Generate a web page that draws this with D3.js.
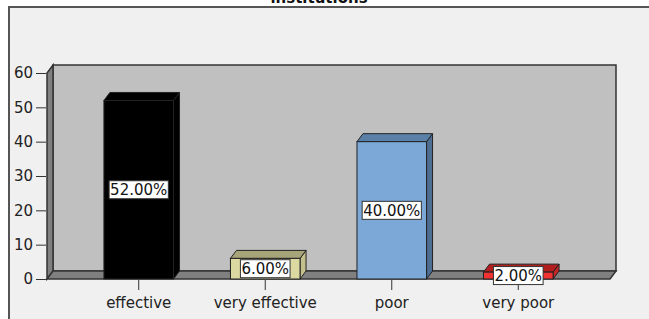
<!DOCTYPE html>
<html>
<head>
<meta charset="utf-8">
<script src="https://cdn.jsdelivr.net/npm/d3@7"></script>
<style>
  body { margin: 0; background: #ffffff; }
  text { font-family: "DejaVu Sans", sans-serif; }
</style>
</head>
<body>
<div id="my_dataviz"></div>
<script>
// values
var title = "institutions";
var categories = ["effective", "very effective", "poor", "very poor"];
var percents = [52, 6, 40, 2];
var valueLabels = ["52.00%", "6.00%", "40.00%", "2.00%"];
var yTicks = [0, 10, 20, 30, 40, 50, 60];

// bar colours: front, top, side
var barColors = [
    ["#000000", "#000000", "#000000"],
    ["#dcd8a2", "#a8a47a", "#c4c08e"],
    ["#7ba8d7", "#5a80a8", "#4d6d92"],
    ["#f23232", "#b21e1e", "#c42626"]
];

var width = 649,
    height = 319;

// floor front edge and 3d depth offset
var plot = { left: 47, right: 610, bottom: 279 },
    dx = 6,
    dy = 8;

var svg = d3.select("#my_dataviz")
    .append("svg")
    .attr("width", width)
    .attr("height", height);

// outer frame
svg.append("rect")
    .attr("x", 9)
    .attr("y", 7)
    .attr("width", 700)
    .attr("height", 400)
    .attr("fill", "#f0f0f0")
    .attr("stroke", "#555")
    .attr("stroke-width", 2);

// title, mostly cut off at the top
svg.append("text")
    .attr("x", 319)
    .attr("y", 3)
    .attr("text-anchor", "middle")
    .attr("font-size", 15)
    .attr("font-weight", "bold")
    .attr("fill", "#111")
    .text(title);

var x = d3.scaleBand()
    .domain(categories)
    .range([plot.left, plot.right])
    .padding(0.45);

var y = d3.scaleLinear()
    .domain([0, 60])
    .range([plot.bottom, 73]);

var wallTop = y(60) - dy;

// back wall
svg.append("rect")
    .attr("x", plot.left + dx)
    .attr("y", wallTop)
    .attr("width", plot.right - plot.left)
    .attr("height", plot.bottom - dy - wallTop)
    .attr("fill", "#c0c0c0")
    .attr("stroke", "#333")
    .attr("stroke-width", 1.5);

// left side wall
svg.append("path")
    .attr("d", "M" + plot.left + "," + plot.bottom +
        "L" + plot.left + "," + (wallTop + dy) +
        "L" + (plot.left + dx) + "," + wallTop +
        "L" + (plot.left + dx) + "," + (plot.bottom - dy) + "Z")
    .attr("fill", "#808080")
    .attr("stroke", "#333")
    .attr("stroke-width", 1.5);

// floor
svg.append("path")
    .attr("d", "M" + plot.left + "," + plot.bottom +
        "L" + (plot.left + dx) + "," + (plot.bottom - dy) +
        "L" + (plot.right + dx) + "," + (plot.bottom - dy) +
        "L" + plot.right + "," + plot.bottom + "Z")
    .attr("fill", "#808080")
    .attr("stroke", "#333")
    .attr("stroke-width", 1.5);

// y axis
var yAxis = svg.append("g")
    .attr("transform", "translate(" + (plot.left - 1) + ",0)")
    .call(d3.axisLeft(y).tickValues(yTicks).tickSize(10).tickSizeOuter(0).tickPadding(3));
yAxis.select(".domain").remove();
yAxis.selectAll("line").attr("stroke", "#333");
yAxis.selectAll("text")
    .attr("font-family", "DejaVu Sans")
    .attr("font-size", 15)
    .attr("fill", "#222");

// x axis
var xAxis = svg.append("g")
    .attr("transform", "translate(0," + (plot.bottom + 1) + ")")
    .call(d3.axisBottom(x).tickSize(10).tickSizeOuter(0).tickPadding(7));
xAxis.select(".domain").remove();
xAxis.selectAll("line").attr("stroke", "#333");
xAxis.selectAll("text")
    .attr("font-family", "DejaVu Sans")
    .attr("font-size", 15)
    .attr("fill", "#222");

// the 3d bars
var bars = svg.append("g")
    .selectAll("g")
    .data(categories)
    .enter().append("g");

bars.append("path") // side
    .attr("d", function(d, i) {
        var x1 = x(d) + x.bandwidth(), yt = y(percents[i]);
        return "M" + x1 + "," + yt + "L" + (x1 + dx) + "," + (yt - dy) +
            "L" + (x1 + dx) + "," + (plot.bottom - dy) + "L" + x1 + "," + plot.bottom + "Z";
    })
    .attr("fill", function(d, i) { return barColors[i][2]; })
    .attr("stroke", "#222")
    .attr("stroke-width", 1);

bars.append("path") // top
    .attr("d", function(d, i) {
        var x0 = x(d), x1 = x0 + x.bandwidth(), yt = y(percents[i]);
        return "M" + x0 + "," + yt + "L" + (x0 + dx) + "," + (yt - dy) +
            "L" + (x1 + dx) + "," + (yt - dy) + "L" + x1 + "," + yt + "Z";
    })
    .attr("fill", function(d, i) { return barColors[i][1]; })
    .attr("stroke", "#222")
    .attr("stroke-width", 1);

bars.append("rect") // front
    .attr("x", function(d) { return x(d); })
    .attr("y", function(d, i) { return y(percents[i]); })
    .attr("width", x.bandwidth())
    .attr("height", function(d, i) { return plot.bottom - y(percents[i]); })
    .attr("fill", function(d, i) { return barColors[i][0]; })
    .attr("stroke", "#222")
    .attr("stroke-width", 1);

// value labels in white boxes
bars.each(function(d, i) {
    var g = d3.select(this);
    var cx = x(d) + x.bandwidth() / 2,
        cy = (y(percents[i]) + plot.bottom) / 2;
    var t = g.append("text")
        .attr("x", cx)
        .attr("y", cy)
        .attr("dy", "0.36em")
        .attr("text-anchor", "middle")
        .attr("font-size", 15)
        .attr("fill", "#111")
        .text(valueLabels[i]);
    var bb = t.node().getBBox();
    g.insert("rect", "text")
        .attr("x", bb.x - 1)
        .attr("y", cy - 9)
        .attr("width", bb.width + 2)
        .attr("height", 18)
        .attr("fill", "#ffffff")
        .attr("stroke", "#333")
        .attr("stroke-width", 1);
});
</script>
</body>
</html>
